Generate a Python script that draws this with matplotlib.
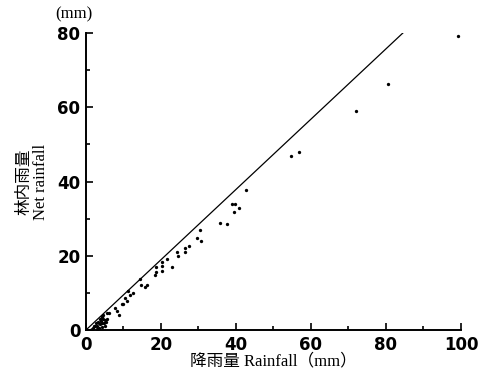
import numpy as np
import matplotlib.pyplot as plt
from matplotlib.ticker import MultipleLocator

# rainfall (x) vs net rainfall under forest canopy (y), in mm
rainfall = [99.1, 80.6, 71.9, 54.8, 56.8, 42.6, 39.0, 39.7, 39.6, 40.8,
            35.7, 37.5, 30.4, 29.5, 30.7, 27.5, 26.4, 26.4, 24.2, 24.6,
            23.0, 21.5, 20.4, 20.4, 20.4, 18.8, 18.4, 18.7, 14.4, 14.8,
            15.7, 16.2, 11.3, 12.6, 11.7, 10.4, 11.0, 10.0, 9.5, 7.7,
            8.4, 8.8, 6.2, 5.5, 4.6, 4.4, 3.7, 5.1, 5.3,
            2.0, 2.5, 3.0, 3.0, 3.5, 3.8, 4.0, 4.2, 4.5, 4.3,
            3.2, 2.8, 1.5, 1.0, 2.2, 4.8, 5.0, 3.6, 4.4, 5.6]
net_rainfall = [79.3, 66.2, 59.1, 47.0, 47.9, 37.8, 34.0, 34.0, 31.7, 33.0,
                28.8, 28.6, 27.0, 24.9, 23.9, 22.7, 22.0, 20.9, 20.9, 20.0,
                16.9, 19.1, 18.2, 17.3, 16.0, 17.1, 14.8, 15.5, 13.8, 12.0,
                11.5, 12.0, 10.6, 10.1, 9.3, 8.7, 7.8, 7.0, 7.0, 5.8,
                5.1, 4.0, 4.7, 4.5, 4.0, 3.6, 3.1, 2.7, 2.1,
                0.5, 1.0, 1.2, 0.3, 2.0, 1.5, 2.5, 0.8, 3.0, 3.5,
                2.2, 1.8, 0.2, 0.1, 1.0, 2.0, 1.2, 0.5, 1.8, 3.0]

# reference line
line_x = [0, 84.5]
line_y = [0, 80]

fig = plt.figure(figsize=(4.79, 3.76), dpi=100)
ax = fig.add_axes([0.1795, 0.1223, 0.7829, 0.7899])

ax.plot(line_x, line_y, color='black', linewidth=0.9)
ax.plot(rainfall, net_rainfall, 'o', color='black', markersize=2.4, markeredgewidth=0)

ax.set_xlim(0, 100)
ax.set_ylim(0, 80)
ax.xaxis.set_major_locator(MultipleLocator(20))
ax.xaxis.set_minor_locator(MultipleLocator(10))
ax.yaxis.set_major_locator(MultipleLocator(20))
ax.yaxis.set_minor_locator(MultipleLocator(10))
ax.tick_params(which='both', direction='in', width=1.2, labelsize=12, pad=4)
ax.tick_params(which='major', length=5)
ax.tick_params(which='minor', length=3)
for lab in ax.get_xticklabels() + ax.get_yticklabels():
    lab.set_fontweight('bold')
ax.spines['top'].set_visible(False)
ax.spines['right'].set_visible(False)
ax.spines['left'].set_linewidth(1.4)
ax.spines['bottom'].set_linewidth(1.4)

fam = ['Liberation Serif', 'Noto Sans CJK JP']
ax.set_xlabel('降雨量 Rainfall（mm）', family=fam, fontsize=12, labelpad=0)
ax.set_ylabel('林内雨量\nNet rainfall', family=fam, fontsize=12, labelpad=6,
              linespacing=1.0)
fig.text(0.155, 0.962, '(mm)', family=fam, fontsize=12, ha='center', va='center')

plt.savefig('out.png', dpi=100)
